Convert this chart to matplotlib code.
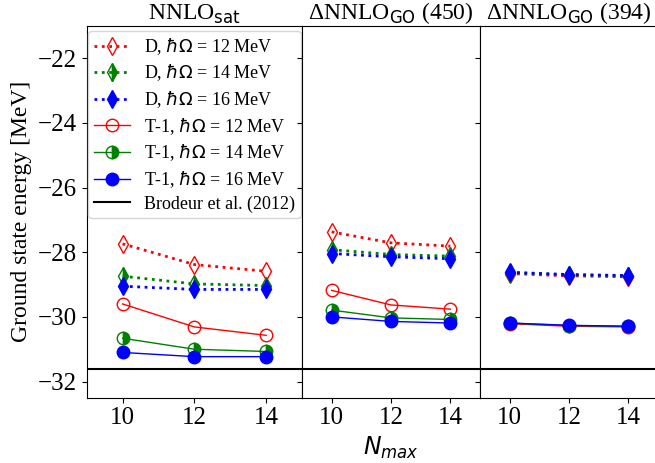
import numpy as np
import matplotlib.pyplot as plt

plt.rcParams['font.family'] = 'serif'
plt.rcParams['font.serif'] = ['Liberation Serif', 'DejaVu Serif']
plt.rcParams['mathtext.fontset'] = 'dejavusans'

nmax = [10, 12, 14]
titles = ['NNLO$_{\\rm sat}$', '\u0394NNLO$_{\\rm GO}$ (450)', '\u0394NNLO$_{\\rm GO}$ (394)']
brodeur = -31.61

# D results (hw = 12, 14, 16 MeV) per interaction
d_12 = [[-27.74, -28.38, -28.59], [-27.37, -27.71, -27.81], [-28.66, -28.73, -28.76]]
d_14 = [[-28.74, -28.98, -29.03], [-27.92, -28.07, -28.12], [-28.63, -28.70, -28.73]]
d_16 = [[-29.05, -29.15, -29.15], [-28.04, -28.14, -28.20], [-28.62, -28.69, -28.72]]
# T-1 results
t_12 = [[-29.60, -30.31, -30.57], [-29.18, -29.63, -29.76], [-30.21, -30.29, -30.31]]
t_14 = [[-30.66, -31.00, -31.07], [-29.79, -30.03, -30.08], [-30.19, -30.27, -30.29]]
t_16 = [[-31.10, -31.23, -31.23], [-30.00, -30.14, -30.19], [-30.19, -30.26, -30.29]]

W, H = 655, 463
fig = plt.figure(figsize=(W / 100, H / 100), dpi=100)
lefts = [86.7, 302, 480]
widths = [215.3, 178, 178]
bottom, top = 397.7, 26
axes = []
for i in range(3):
    rect = [lefts[i] / W, (H - bottom) / H, widths[i] / W, (bottom - top) / H]
    ax = fig.add_axes(rect, sharey=axes[0] if axes else None)
    axes.append(ax)

for i, ax in enumerate(axes):
    ax.plot(nmax, d_12[i], ':', color='r', lw=2, marker='d', ms=9, fillstyle='none',
            label='D, $\\hbar\\Omega$ = 12 MeV')
    ax.plot(nmax, d_14[i], ':', color='g', lw=2, marker='d', ms=9, fillstyle='right',
            label='D, $\\hbar\\Omega$ = 14 MeV')
    ax.plot(nmax, d_16[i], ':', color='b', lw=2, marker='d', ms=9,
            label='D, $\\hbar\\Omega$ = 16 MeV')
    ax.plot(nmax, t_12[i], '-', color='r', lw=1, marker='o', ms=9, fillstyle='none',
            label='T-1, $\\hbar\\Omega$ = 12 MeV')
    ax.plot(nmax, t_14[i], '-', color='g', lw=1, marker='o', ms=9, fillstyle='right',
            label='T-1, $\\hbar\\Omega$ = 14 MeV')
    ax.plot(nmax, t_16[i], '-', color='b', lw=1, marker='o', ms=9,
            label='T-1, $\\hbar\\Omega$ = 16 MeV')
    ax.axhline(brodeur, color='k', lw=1.5, label='Brodeur et al. (2012)')
    ax.set_xlim(9, 15)
    ax.set_xticks(nmax)
    ax.set_title(titles[i], fontsize=17, pad=4)
    ax.tick_params(labelsize=18)
    if i > 0:
        ax.tick_params(labelleft=False)

axes[0].set_ylim(-32.5, -21)
axes[0].set_yticks([-32, -30, -28, -26, -24, -22])
axes[0].set_ylabel('Ground state energy [MeV]', fontsize=17)
axes[1].set_xlabel('$N_{max}$', fontsize=17)
axes[0].legend(loc='upper left', fontsize=13, bbox_to_anchor=(-0.035, 1.012),
               labelspacing=0.32, borderpad=0.3)

fig.savefig('out.png', dpi=100)
